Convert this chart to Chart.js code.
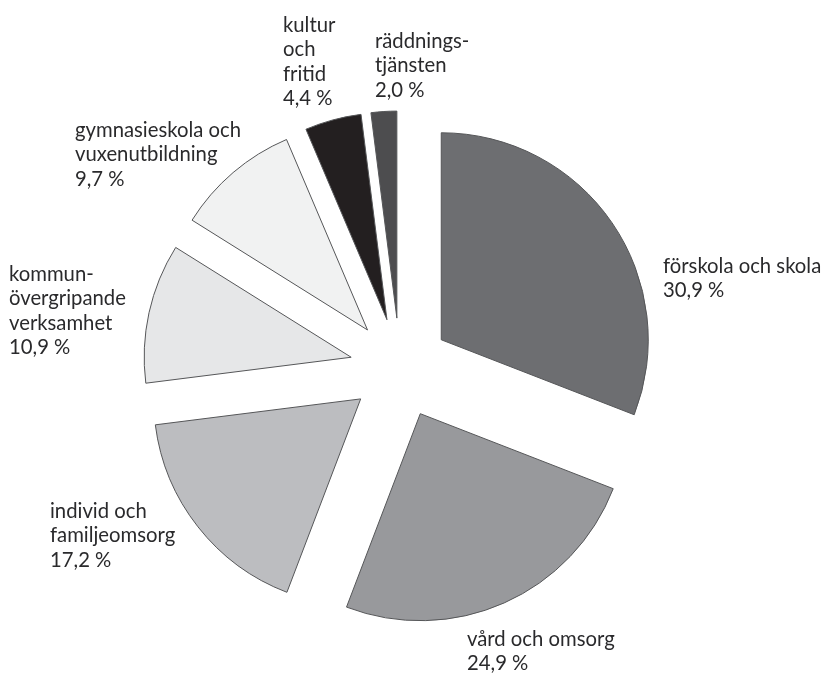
<!DOCTYPE html>
<html>
<head>
<meta charset="utf-8">
<script src="https://cdn.jsdelivr.net/npm/chart.js@4/dist/chart.umd.min.js"></script>
<style>
  html, body { margin: 0; padding: 0; background: #fff; }
  canvas { display: block; }
</style>
</head>
<body>
<canvas id="piechart" width="830" height="675"></canvas>
<script>
const categories = [
  ["förskola och skola"],
  ["vård och omsorg"],
  ["individ och", "familjeomsorg"],
  ["kommun-", "övergripande", "verksamhet"],
  ["gymnasieskola och", "vuxenutbildning"],
  ["kultur", "och", "fritid"],
  ["räddnings-", "tjänsten"],
];
const shares = [30.9, 24.9, 17.2, 10.9, 9.7, 4.4, 2.0];
const sliceColors = ["#6d6e71", "#98999c", "#bcbdc0", "#e6e7e8", "#f1f2f2", "#231f20", "#4d4d4f"];

// where each label block starts (first baseline), px
const labelPos = [
  [663, 273], [467, 646], [50, 518], [9, 281], [75, 137], [283, 32], [375, 48],
];
const explode = 50;

const explodePlugin = {
  id: "explode",
  beforeDatasetsDraw(chart) {
    const area = chart.chartArea;
    const cx = (area.left + area.right) / 2;
    const cy = (area.top + area.bottom) / 2;
    chart.getDatasetMeta(0).data.forEach((arc) => {
      const mid = (arc.startAngle + arc.endAngle) / 2;
      arc.x = cx + Math.cos(mid) * explode;
      arc.y = cy + Math.sin(mid) * explode;
    });
  },
};

const labelPlugin = {
  id: "sliceLabels",
  afterDraw(chart) {
    const ctx = chart.ctx;
    ctx.save();
    ctx.font = "20.3px Lato";
    ctx.fillStyle = "#2a2a2c";
    ctx.textAlign = "left";
    ctx.textBaseline = "alphabetic";
    categories.forEach((lines, i) => {
      const [x, y] = labelPos[i];
      const text = lines.concat([shares[i].toFixed(1).replace(".", ",") + " %"]);
      text.forEach((t, j) => ctx.fillText(t, x, y + j * 24.3));
    });
    ctx.restore();
  },
};

const pctx = document.getElementById("piechart");

new Chart(pctx, {
  type: "pie",
  data: {
    labels: categories.map((c) => c.join(" ")),
    datasets: [
      {
        data: shares,
        backgroundColor: sliceColors,
        borderColor: "#555658",
        borderWidth: 1,
        radius: 207,
      },
    ],
  },
  options: {
    responsive: false,
    animation: false,
    layout: {
      padding: { left: 0, right: 30, top: 61, bottom: 0 },
    },
    plugins: {
      legend: { display: false },
      tooltip: { enabled: false },
    },
  },
  plugins: [explodePlugin, labelPlugin],
});
</script>
</body>
</html>
